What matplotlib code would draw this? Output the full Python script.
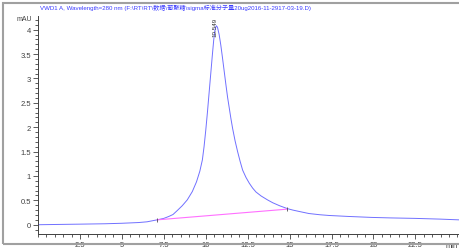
import matplotlib
matplotlib.use("Agg")
from matplotlib import pyplot as plt
from matplotlib import patches as mpatches
from matplotlib.ticker import MultipleLocator

TITLE = "VWD1 A, Wavelength=280 nm (F:\\RT\\RT\\数据\\葡聚糖\\sigma标准分子量20ug2016-11-2917-03-19.D)"

time_min = [0, 1, 2.5, 4, 5, 6, 6.5, 7.1, 7.5, 7.8, 8.05, 8.3, 8.6, 8.9,
            9.2, 9.45, 9.65, 9.8, 9.9, 10.0, 10.1, 10.2, 10.3, 10.4, 10.48,
            10.55, 10.63, 10.7, 10.8, 10.9, 11.0, 11.1, 11.2, 11.3, 11.4,
            11.5, 11.6, 11.75, 11.9, 12.05, 12.2, 12.4, 12.6, 12.8, 13.0,
            13.3, 13.68, 14.0, 14.4, 14.87, 15.2, 15.6, 16.15, 16.8, 17.35,
            18.5, 19.9, 21, 22.5, 24, 25.1]
signal_mau = [0.0, 0.005, 0.012, 0.02, 0.03, 0.045, 0.06, 0.10, 0.13, 0.17,
              0.21, 0.29, 0.39, 0.51, 0.68, 0.88, 1.1, 1.33, 1.6, 1.93, 2.3,
              2.7, 3.1, 3.5, 3.8, 4.0, 4.08, 4.05, 3.9, 3.68, 3.42, 3.15,
              2.88, 2.62, 2.4, 2.18, 1.98, 1.72, 1.5, 1.3, 1.12, 0.97, 0.85,
              0.75, 0.67, 0.59, 0.51, 0.45, 0.39, 0.33, 0.30, 0.27, 0.23,
              0.205, 0.19, 0.17, 0.15, 0.14, 0.13, 0.115, 0.10]

base_t = [7.1, 14.87]
base_y = [0.10, 0.32]

peak_t = 10.549
peak_y = 4.08

W, H = 459, 251
fig = plt.figure(figsize=(W / 100, H / 100), dpi=100)
ax = fig.add_axes([38 / W, 1 - 235 / H, 1 - 38 / W, (235 - 17) / H])

ax.plot(time_min, signal_mau, color="#7070ff", lw=0.7)
ax.plot(base_t, base_y, color="#ff70ff", lw=0.8)
ax.plot(base_t, base_y, "|", color="#505050", ms=3, mew=0.6)

ax.set_xlim(0, 25.1)
ax.set_ylim(-0.19, 4.28)

for s in ("top", "right"):
    ax.spines[s].set_visible(False)
for s in ("left", "bottom"):
    ax.spines[s].set_color("#404040")
    ax.spines[s].set_linewidth(0.7)

ax.xaxis.set_minor_locator(MultipleLocator(0.5))
ax.yaxis.set_minor_locator(MultipleLocator(0.1))
ax.tick_params(which="both", colors="#404040", labelsize=5.5, width=0.6, pad=1.5)
ax.tick_params(which="major", length=3.5)
ax.tick_params(which="minor", length=2)
ax.set_xticks([2.5, 5, 7.5, 10, 12.5, 15, 17.5, 20, 22.5])
ax.set_xticklabels(["2.5", "5", "7.5", "10", "12.5", "15", "17.5", "20", "22.5"])
ax.set_yticks([0, 0.5, 1, 1.5, 2, 2.5, 3, 3.5, 4])
ax.set_yticklabels(["0", "0.5", "1", "1.5", "2", "2.5", "3", "3.5", "4"])
for lab in ax.get_xticklabels() + ax.get_yticklabels():
    lab.set_family(["Liberation Sans", "DejaVu Sans"])

ax.text(-0.014, 0.99, "mAU", transform=ax.transAxes, ha="right", va="center",
        fontsize=5, color="#404040", family="Liberation Sans")
ax.text(0.997, -0.035, "min", transform=ax.transAxes, ha="right", va="top",
        fontsize=5.5, color="#404040", family="Liberation Sans")

# peak label
ax.text(peak_t, 4.26, "10.549", rotation=90, ha="center", va="top",
        fontsize=4.5, color="#303030", family="Liberation Sans")

fig.text(40 / W, 1 - 8 / H, TITLE, ha="left", va="center", fontsize=4.4,
         color="#3a3aff", family=["Liberation Sans", "Noto Sans CJK SC"])

frame = mpatches.Rectangle((3 / W, 1 - 245 / H), 1.0, (245 - 4) / H,
                           transform=fig.transFigure, fill=False,
                           edgecolor="#a0a0a0", lw=1.5)
fig.patches.append(frame)

fig.savefig("out.png", dpi=100)
